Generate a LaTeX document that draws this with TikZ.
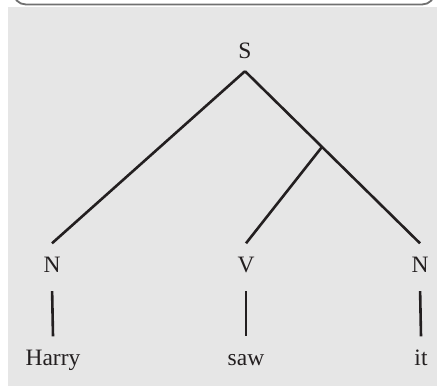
\documentclass[tikz,border=0pt]{standalone}
\usepackage{fontspec}
\setmainfont{Liberation Serif}
\usepackage{xcolor}
\usepackage{tikz}
\usetikzlibrary{positioning,calc}

\definecolor{ink}{HTML}{231F20}
\definecolor{panel}{HTML}{E6E6E6}
\definecolor{frame}{HTML}{707070}

\begin{document}
\begin{tikzpicture}[
    x=1pt, y=1pt,
    cat/.style={inner xsep=2pt, inner ysep=13pt,
                text height=15.5pt, text depth=0pt,
                font=\fontsize{23.5}{28}\selectfont, text=ink},
    word/.style={cat},
    branch/.style={draw=ink, line width=2.6pt},
    stem/.style={branch, shorten <=6pt},
]

%% ─── Canvas ─────────────────────────────────────────────────────────────────
\useasboundingbox (0,0) rectangle (437,-386);
\clip (0,0) rectangle (437,-386);
\fill[panel] (8,-7) rectangle (437,-386);
\draw[frame, line width=1.8pt, rounded corners=13pt, fill=white]
    (13,30) rectangle (435,-4.5);

%% ─── Categories ─────────────────────────────────────────────────────────────
\node[cat, anchor=base] (s)  at (245,-58)  {S};
\node[cat, anchor=base] (n1) at (52,-272)  {N};
\node[cat, anchor=base] (v)  at (246,-272) {V};
\node[cat, anchor=base] (n2) at (420,-272) {N};

%% ─── Words ──────────────────────────────────────────────────────────────────
\node[word, anchor=base] (harry) at (53,-365)  {Harry};
\node[word, anchor=base] (saw)   at (246,-365) {saw};
\node[word, anchor=base] (it)    at (421,-365) {it};

%% ─── Branches ───────────────────────────────────────────────────────────────
\path (s.south) -- (n2.north) coordinate[pos=0.44] (vp);
\draw[branch] (s.south) -- (n1.north);
\draw[branch] (s.south) -- (n2.north);
\draw[branch] (vp) -- (v.north);

\draw[stem] (n1.south) -- (harry.north);
\draw[stem] (v.south)  -- (saw.north);
\draw[stem] (n2.south) -- (it.north);

\end{tikzpicture}
\end{document}
